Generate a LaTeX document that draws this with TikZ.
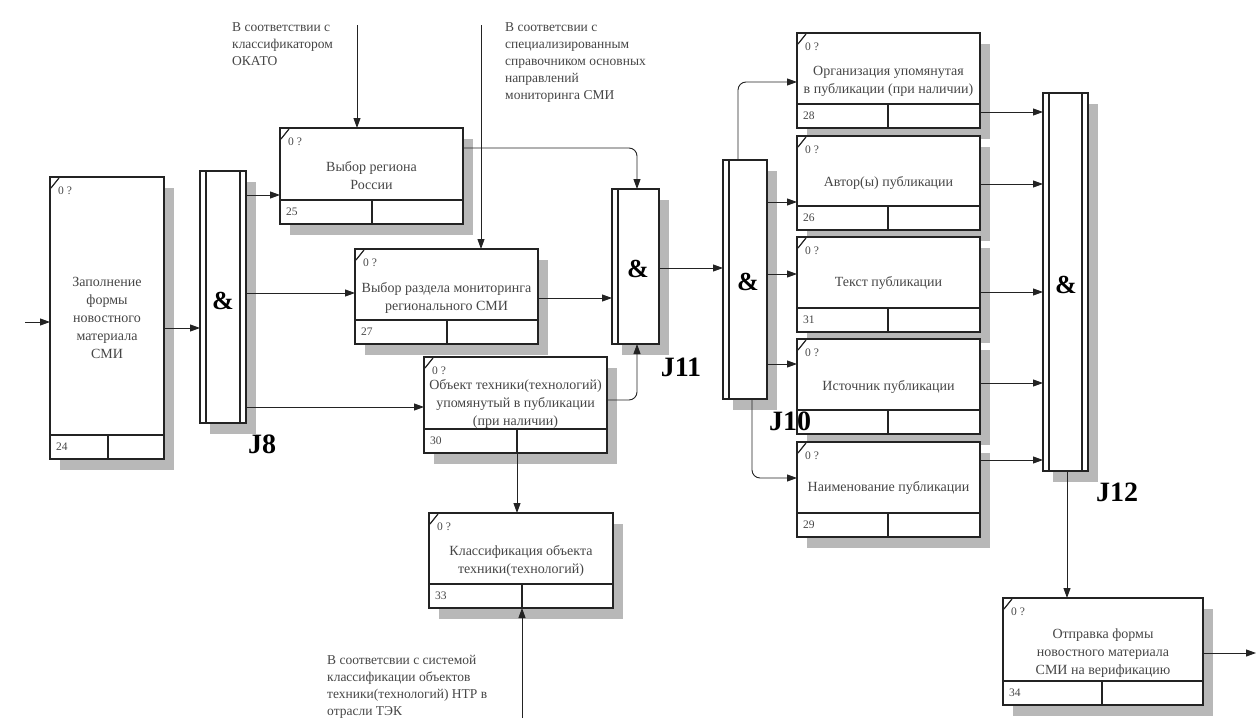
\documentclass[tikz,border=0pt]{standalone}
\usepackage{fontspec}
\setmainfont{Liberation Serif}
\usetikzlibrary{arrows.meta,shadows}

\definecolor{ink}{RGB}{35,35,35}
\definecolor{txt}{RGB}{70,70,70}
\definecolor{shade}{RGB}{184,184,184}

\tikzset{
  actnode/.style={rectangle, draw=ink, line width=1.8pt, fill=white, inner sep=0pt, outer sep=0pt,
    drop shadow={shadow xshift=10pt, shadow yshift=-11pt, fill=shade, opacity=1}},
  jnode/.style={actnode},
  rowline/.style={draw=ink, line width=1.5pt},
  jinner/.style={draw=ink, line width=1.3pt},
  tickline/.style={draw=ink, line width=1.2pt},
  link/.style={draw=ink, line width=0.9pt, -{Triangle[length=10pt,width=7pt]}, rounded corners=8pt},
  boxtext/.style={text=txt, align=center, font=\fontsize{14}{18}\selectfont, inner sep=0pt},
  tinytext/.style={text=txt, font=\fontsize{11.5}{12}\selectfont, inner sep=0pt},
  note/.style={text=txt, align=left, font=\fontsize{13.5}{17}\selectfont, inner sep=0pt, anchor=north west},
  amp/.style={font=\fontsize{26}{28}\selectfont\bfseries, text=black, inner sep=0pt},
  jlabel/.style={font=\fontsize{28}{30}\selectfont\bfseries, text=black, inner sep=0pt},
}

% activity box: name, left, top, right, bottom, divider x, number, text y, text
\newcommand\actbox[9]{%
  \node[actnode, minimum width={#4-#2}, minimum height={#5-#3}] (#1) at ({(#2+#4)/2},{(#3+#5)/2}) {};
  \draw[rowline] (#2,#5-24) -- (#4,#5-24) (#6,#5-24) -- (#6,#5);
  \draw[tickline] (#2+1,#3+11) -- (#2+9,#3+1);
  \node[tinytext, anchor=west] at (#2+8,#3+14) {0 ?};
  \node[tinytext, anchor=west] at (#2+6,#5-12) {#7};
  \node[boxtext] at ({(#2+#4)/2},#8) {#9};
}

% junction: name, left, top, right, bottom, double right edge (1/0)
\newcommand\junc[6]{%
  \node[jnode, minimum width={#4-#2}, minimum height={#5-#3}] (#1) at ({(#2+#4)/2},{(#3+#5)/2}) {};
  \draw[jinner] (#2+6,#3) -- (#2+6,#5);
  \ifnum#6=1 \draw[jinner] (#4-6,#3) -- (#4-6,#5);\fi
}

\begin{document}
\begin{tikzpicture}[x=1pt,y=-1pt]
\useasboundingbox[fill=white] (0,0) rectangle (1259,718);

% annotations
\node[note] (noteA) at (232,22) {В соответствии с\\классификатором\\ОКАТО};
\node[note] (noteB) at (505,22) {В соответсвии с\\специализированным\\справочником основных\\направлений\\мониторинга СМИ};
\node[note] (noteC) at (327,655) {В соответсвии с системой\\классификации объектов\\техники(технологий) НТР в\\отрасли ТЭК};

% activities
\actbox{b24}{50}{177}{164}{459}{108}{24}{318}{Заполнение\\формы\\новостного\\материала\\СМИ}
\actbox{b25}{280}{128}{463}{224}{372}{25}{176}{Выбор региона\\России}
\actbox{b27}{355}{249}{538}{344}{447}{27}{298}{Выбор раздела мониторинга\\регионального СМИ}
\actbox{b30}{424}{357}{607}{453}{517}{30}{404}{Объект техники(технологий)\\упомянутый в публикации\\(при наличии)}
\actbox{b33}{429}{513}{613}{608}{522}{33}{561}{Классификация объекта\\техники(технологий)}
\actbox{b28}{797}{33}{980}{128}{888}{28}{81}{Организация упомянутая\\в публикации (при наличии)}
\actbox{b26}{797}{136}{980}{230}{888}{26}{183}{Автор(ы) публикации}
\actbox{b31}{797}{237}{980}{332}{888}{31}{283}{Текст публикации}
\actbox{b35}{797}{339}{980}{434}{888}{}{387}{Источник публикации}
\actbox{b29}{797}{442}{980}{537}{888}{29}{488}{Наименование публикации}
\actbox{b34}{1003}{598}{1203}{705}{1102}{34}{653}{Отправка формы\\новостного материала\\СМИ на верификацию}

% junctions
\junc{j8}{200}{171}{246}{423}{1}
\junc{j11}{612}{189}{659}{344}{0}
\junc{j10}{723}{160}{767}{399}{0}
\junc{j12}{1043}{93}{1088}{471}{1}
\node[amp] (ampA) at (223,301) {\&};
\node[amp] (ampB) at (638,269) {\&};
\node[amp] (ampC) at (748,282) {\&};
\node[amp] (ampD) at (1066,285) {\&};
\node[jlabel] (labA) at (262,444) {J8};
\node[jlabel] (labB) at (681,367) {J11};
\node[jlabel] (labC) at (790,421) {J10};
\node[jlabel] (labD) at (1117,492) {J12};

% free ends of boundary arrows
\coordinate (in24) at (25,322);
\coordinate (out34) at (1256,653);
\coordinate (ctlA) at (357,25);
\coordinate (ctlB) at (481,25);
\coordinate (mechA) at (522,718);

% connectors
\draw[link] (in24) -- (b24.west |- 0,322);
\draw[link] (b24.east |- 0,328) -- (j8.west |- 0,328);
\draw[link] (j8.east |- 0,195) -- (b25.west |- 0,195);
\draw[link] (j8.east |- 0,293) -- (b27.west |- 0,293);
\draw[link] (j8.east |- 0,407) -- (b30.west |- 0,407);
\draw[link] (ctlA) -- (ctlA |- b25.north);
\draw[link] (ctlB) -- (ctlB |- b27.north);
\draw[link] (b25.east |- 0,148) -| (j11.north -| 637,0);
\draw[link] (b27.east |- 0,298) -- (j11.west |- 0,298);
\draw[link] (b30.east |- 0,400) -| (j11.south -| 637,0);
\draw[link] (b30.south -| 517,0) -- (b33.north -| 517,0);
\draw[link] (mechA) -- (mechA |- b33.south);
\draw[link] (j11.east |- 0,268) -- (j10.west |- 0,268);
\draw[link] (j10.north -| 738,0) |- (b28.west |- 0,82);
\draw[link] (j10.east |- 0,202) -- (b26.west |- 0,202);
\draw[link] (j10.east |- 0,274) -- (b31.west |- 0,274);
\draw[link] (j10.east |- 0,364) -- (b35.west |- 0,364);
\draw[link] (j10.south -| 752,0) |- (b29.west |- 0,478);
\draw[link] (b28.east |- 0,112) -- (j12.west |- 0,112);
\draw[link] (b26.east |- 0,184) -- (j12.west |- 0,184);
\draw[link] (b31.east |- 0,292) -- (j12.west |- 0,292);
\draw[link] (b35.east |- 0,383) -- (j12.west |- 0,383);
\draw[link] (b29.east |- 0,460) -- (j12.west |- 0,460);
\draw[link] (j12.south -| 1067,0) -- (b34.north -| 1067,0);
\draw[link] (b34.east |- 0,653) -- (out34);
\end{tikzpicture}
\end{document}
